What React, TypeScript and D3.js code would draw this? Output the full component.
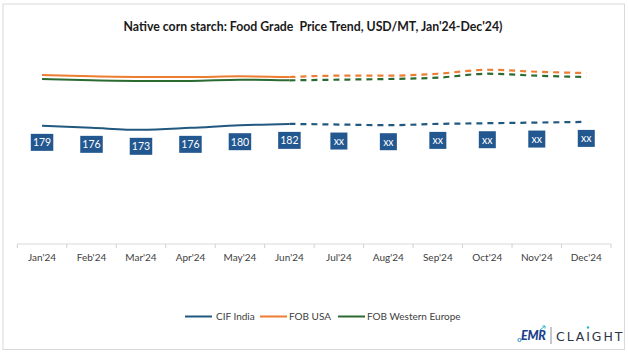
import React from "react";
import * as d3 from "d3";

const months = ["Jan'24", "Feb'24", "Mar'24", "Apr'24", "May'24", "Jun'24", "Jul'24", "Aug'24", "Sep'24", "Oct'24", "Nov'24", "Dec'24"];
const cifIndia = [179, 176, 173, 176, 180, 182, 181, 180, 182, 183, 184, 185];
const fobUSA = [256, 254, 253, 253, 254, 253, 255, 255, 258, 264, 261, 259];
const fobWesternEurope = [250, 248, 247, 247, 249, 248, 249, 250, 252, 258, 255, 253];
const cifLabels = ["179", "176", "173", "176", "180", "182", "xx", "xx", "xx", "xx", "xx", "xx"];
const forecastStart = 5;

const seriesNames = ["CIF India", "FOB USA", "FOB Western Europe"];
const seriesColors = ["#21587f", "#ed7d31", "#2b6a30"];

const W = 628;
const H = 359;
const FONT = "Lato, 'Open Sans', sans-serif";

export default function App() {
  const x = d3.scaleBand<string>().domain(months).range([17.3, 611]).padding(0);
  const y = d3.scaleLinear().domain([0, 300]).range([244, 46]);
  const cx = (i: number) => (x(months[i]) as number) + x.bandwidth() / 2;

  const line = d3
    .line<[number, number]>()
    .x((d) => cx(d[0]))
    .y((d) => y(d[1]))
    .curve(d3.curveMonotoneX);

  const series = [cifIndia, fobUSA, fobWesternEurope];
  const solidPts = (vals: number[]) => vals.slice(0, forecastStart + 1).map((v, i) => [i, v] as [number, number]);
  const dashPts = (vals: number[]) => vals.slice(forecastStart).map((v, i) => [i + forecastStart, v] as [number, number]);

  const tickXs = months.map((m) => x(m) as number).concat([x.range()[1]]);

  const legendItems = [
    { lx: 185, tx: 216 },
    { lx: 260, tx: 289 },
    { lx: 338, tx: 367 },
  ];

  return (
    <svg width={W} height={H} style={{ position: "absolute", left: 0, top: 0 }} fontFamily={FONT}>
      <rect x={0} y={0} width={W} height={H} fill="#ffffff" />
      <rect x={3} y={4} width={621.5} height={345.5} fill="#ffffff" stroke="#d9d9d9" strokeWidth={1} />

      <text x={313} y={31} textAnchor="middle" fontSize={12.3} fontWeight={700} fill="#1a1a1a" style={{ whiteSpace: "pre" }}>
        {"Native corn starch: Food Grade  Price Trend, USD/MT, Jan'24-Dec'24)"}
      </text>

      {/* x axis */}
      <line x1={x.range()[0]} x2={x.range()[1]} y1={244} y2={244} stroke="#d9d9d9" strokeWidth={1} />
      {tickXs.map((tx, i) => (
        <line key={i} x1={tx} x2={tx} y1={244} y2={248} stroke="#d0d0d0" strokeWidth={1} />
      ))}
      {months.map((m, i) => (
        <text key={m} x={cx(i)} y={261} textAnchor="middle" fontSize={10} fill="#404040">
          {m}
        </text>
      ))}

      {/* lines */}
      {series.map((vals, s) => (
        <g key={s}>
          <path d={line(solidPts(vals)) as string} fill="none" stroke={seriesColors[s]} strokeWidth={2} />
          <path
            d={line(dashPts(vals)) as string}
            fill="none"
            stroke={seriesColors[s]}
            strokeWidth={2.2}
            strokeDasharray="6,5"
          />
        </g>
      ))}

      {/* data labels */}
      {cifIndia.map((v, i) => {
        const lbl = cifLabels[i];
        const w = lbl.length * 5.5 + 6;
        const yc = y(v) + 16.5;
        return (
          <g key={i}>
            <rect x={cx(i) - w / 2} y={yc - 8.5} width={w} height={17} fill="#23578f" />
            <text x={cx(i)} y={yc + 3.8} textAnchor="middle" fontSize={10.5} fill="#ffffff">
              {lbl}
            </text>
          </g>
        );
      })}

      {/* legend */}
      {seriesNames.map((n, i) => (
        <g key={n}>
          <line x1={legendItems[i].lx} x2={legendItems[i].lx + 27} y1={316.5} y2={316.5} stroke={seriesColors[i]} strokeWidth={2} />
          <text x={legendItems[i].tx} y={320} fontSize={10} fill="#404040">
            {n}
          </text>
        </g>
      ))}

      {/* logo */}
      <g>
        <circle cx={519.5} cy={340} r={1.6} fill="none" stroke="#2a8fc9" strokeWidth={1} />
        <text x={521} y={340} fontSize={12.5} fontWeight={900} fill="#1c3f8a" fontStyle="italic" letterSpacing={-0.3}>
          EMR
        </text>
        <path d="M540 330 L545 326 M542.5 326 L545 326 L545 328.5" stroke="#2bb0d6" strokeWidth={1} fill="none" />
        <line x1={551} x2={551} y1={327} y2={344} stroke="#8a8f99" strokeWidth={1} />
        <text x={556} y={340.5} fontSize={12.5} fill="#2c3446" letterSpacing={1.9} fontFamily="'DejaVu Sans', sans-serif">
          CLAIGHT
        </text>
        <circle cx={588} cy={327.5} r={1.2} fill="#2bb0d6" />
      </g>
    </svg>
  );
}
